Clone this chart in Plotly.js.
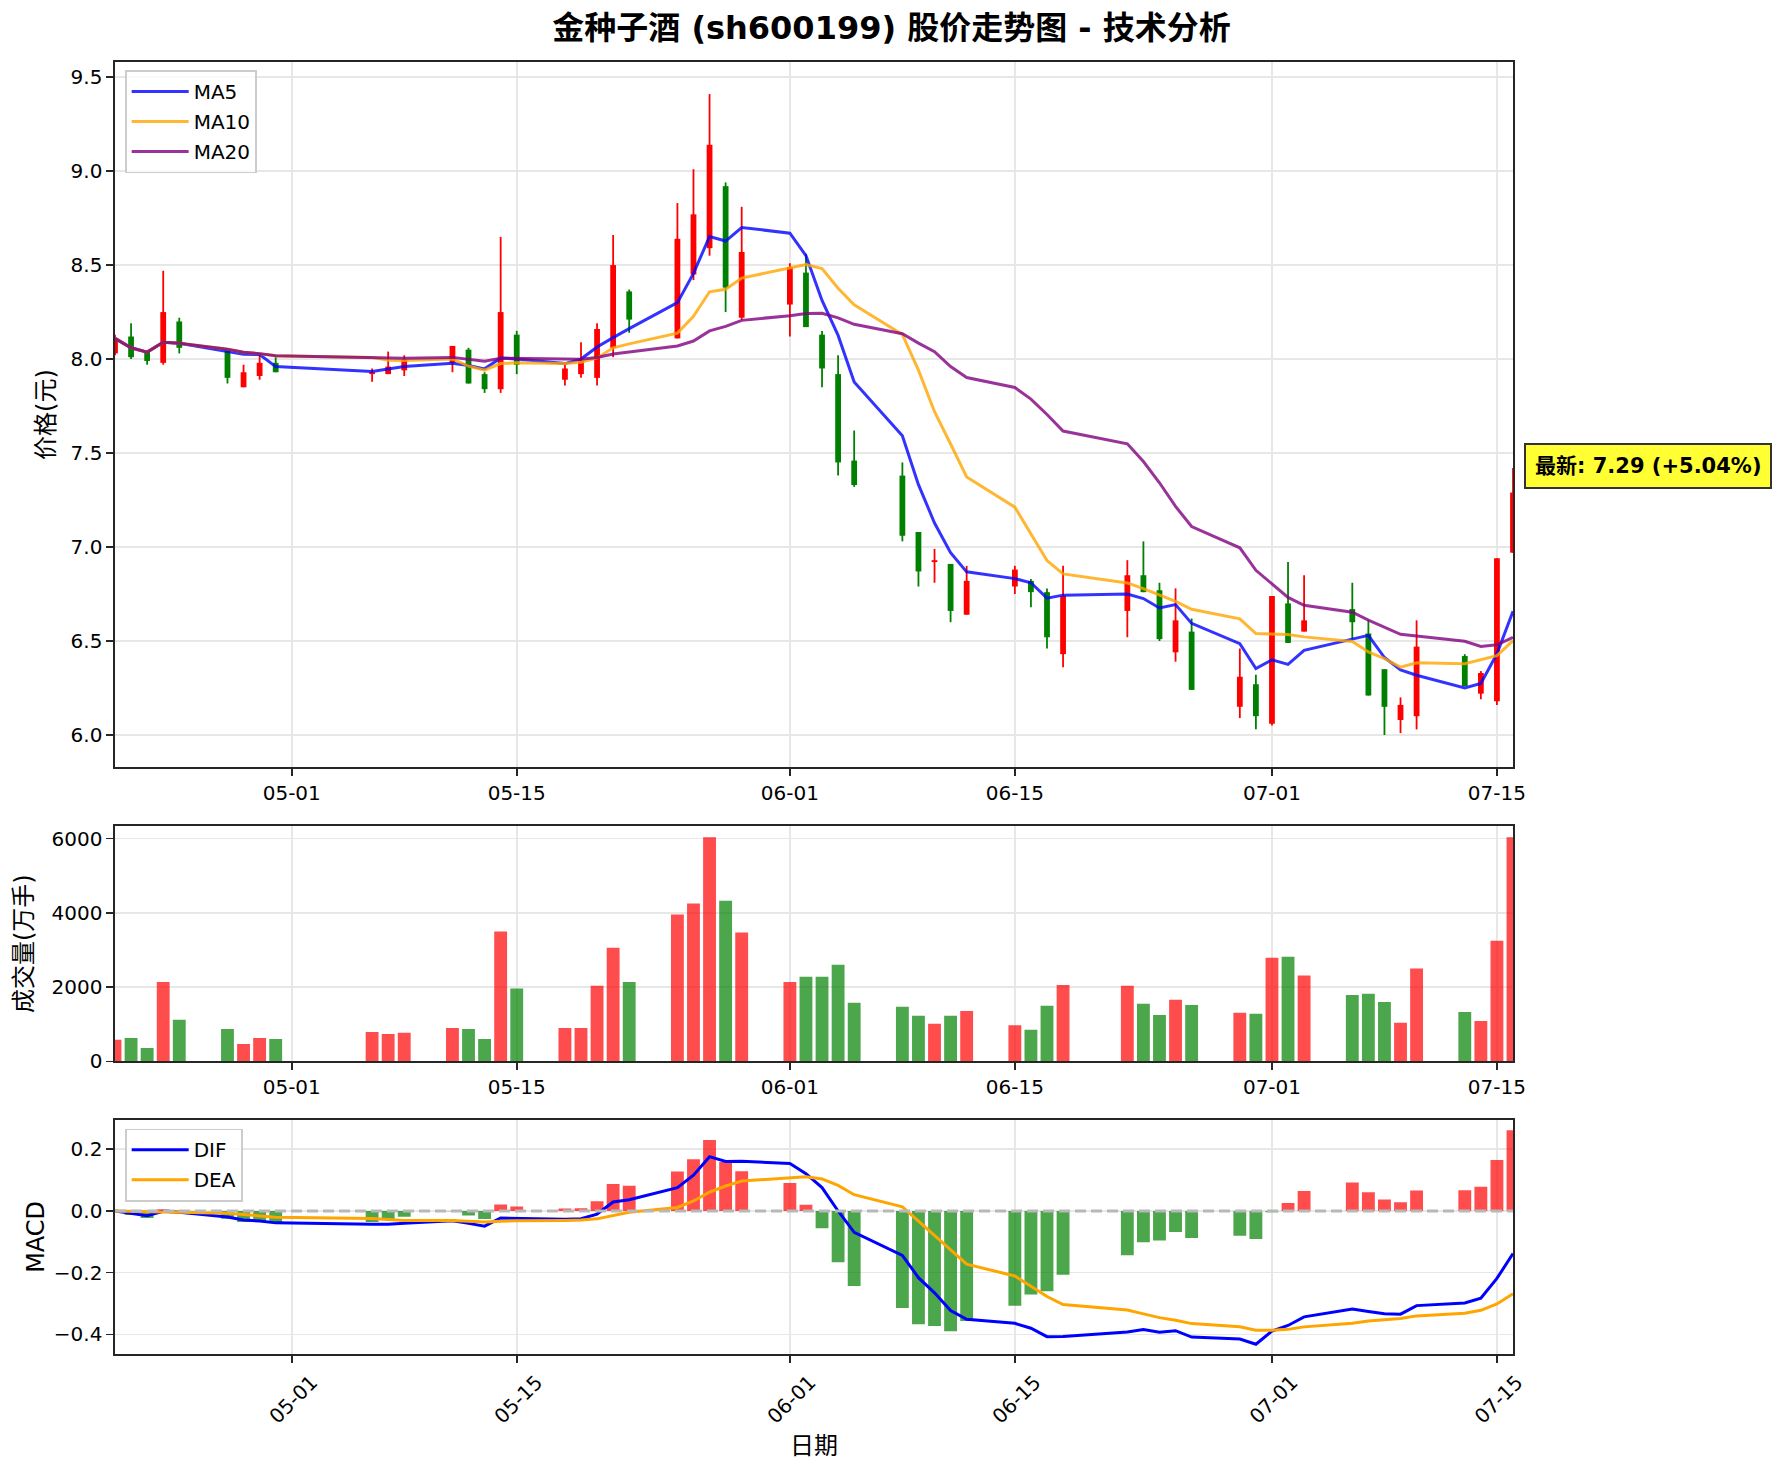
<!DOCTYPE html>
<html>
<head>
<meta charset="utf-8">
<script src="https://cdn.plot.ly/plotly-3.0.1.min.js"></script>
<style>html,body{margin:0;padding:0;background:#fff;}#chart{width:1783px;height:1475px;}</style>
</head>
<body>
<div id="chart"></div>
<script>
const dates = ['2026-04-20','2026-04-21','2026-04-22','2026-04-23','2026-04-24','2026-04-27','2026-04-28','2026-04-29','2026-04-30',
  '2026-05-06','2026-05-07','2026-05-08','2026-05-11','2026-05-12','2026-05-13','2026-05-14','2026-05-15','2026-05-18','2026-05-19',
  '2026-05-20','2026-05-21','2026-05-22','2026-05-25','2026-05-26','2026-05-27','2026-05-28','2026-05-29','2026-06-01','2026-06-02',
  '2026-06-03','2026-06-04','2026-06-05','2026-06-08','2026-06-09','2026-06-10','2026-06-11','2026-06-12','2026-06-15','2026-06-16',
  '2026-06-17','2026-06-18','2026-06-22','2026-06-23','2026-06-24','2026-06-25','2026-06-26','2026-06-29','2026-06-30','2026-07-01',
  '2026-07-02','2026-07-03','2026-07-06','2026-07-07','2026-07-08','2026-07-09','2026-07-10','2026-07-13','2026-07-14','2026-07-15','2026-07-16'];

const opens  = [8.03,8.12,8.04,7.98,8.20,8.05,7.85,7.91,7.98,7.92,7.92,7.94,7.98,8.05,7.92,7.84,8.13,7.89,7.92,7.90,
                8.06,8.36,8.11,8.45,8.59,8.92,8.22,8.29,8.46,8.13,7.92,7.46,7.38,7.08,6.92,6.91,6.64,6.79,6.82,6.76,
                6.43,6.66,6.85,6.77,6.44,6.55,6.15,6.27,6.06,6.70,6.55,6.67,6.54,6.35,6.08,6.10,6.42,6.22,6.18,6.97];
const highs  = [8.13,8.19,8.04,8.47,8.22,8.05,7.97,8.02,8.01,7.95,8.04,8.02,8.07,8.06,7.93,8.65,8.15,7.97,8.09,8.19,
                8.66,8.37,8.83,9.01,9.41,8.94,8.81,8.51,8.56,8.15,8.02,7.62,7.45,7.08,6.99,6.91,6.90,6.90,6.83,6.78,
                6.90,6.93,7.03,6.81,6.78,6.62,6.46,6.32,6.74,6.92,6.85,6.81,6.61,6.35,6.20,6.61,6.43,6.34,6.94,7.42];
const lows   = [8.02,8.00,7.97,7.97,8.03,7.87,7.85,7.89,7.93,7.88,7.92,7.91,7.93,7.87,7.82,7.82,7.92,7.86,7.90,7.86,
                8.01,8.14,8.11,8.42,8.55,8.25,8.21,8.12,8.17,7.85,7.38,7.32,7.03,6.79,6.81,6.60,6.64,6.75,6.68,6.46,
                6.36,6.52,6.76,6.50,6.39,6.24,6.09,6.03,6.05,6.49,6.55,6.51,6.21,6.00,6.01,6.03,6.26,6.19,6.16,6.97];
const closes = [8.11,8.01,7.99,8.25,8.06,7.90,7.93,7.98,7.93,7.93,7.96,8.00,8.07,7.87,7.84,8.25,7.97,7.95,7.99,8.16,
                8.50,8.21,8.64,8.77,9.14,8.38,8.57,8.49,8.17,7.95,7.45,7.33,7.06,6.87,6.93,6.66,6.82,6.88,6.76,6.52,
                6.74,6.85,6.76,6.51,6.61,6.24,6.31,6.10,6.74,6.49,6.61,6.60,6.21,6.15,6.16,6.47,6.26,6.33,6.94,7.29];
const volumes = [580,630,360,2140,1120,870,470,630,600,790,740,770,900,870,600,3500,1960,900,900,2040,
                 3060,2140,3960,4250,6040,4330,3470,2140,2280,2280,2600,1580,1470,1230,1010,1230,1360,970,850,1500,
                 2060,2040,1550,1250,1660,1520,1310,1280,2790,2820,2310,1790,1820,1600,1040,2500,1330,1090,3250,6040];

const ma5  = [8.110,8.060,8.037,8.090,8.084,8.042,8.026,8.024,7.960,7.934,7.946,7.960,7.978,7.966,7.948,8.006,8.000,7.976,8.000,8.064,
              8.114,8.162,8.300,8.456,8.652,8.628,8.700,8.670,8.550,8.312,8.126,7.878,7.592,7.332,7.128,6.970,6.868,6.832,6.810,6.728,
              6.744,6.750,6.726,6.676,6.694,6.594,6.486,6.354,6.400,6.376,6.450,6.508,6.530,6.412,6.346,6.318,6.250,6.274,6.432,6.658];
const ma10 = [8.110,8.060,8.037,8.090,8.084,8.053,8.036,8.029,8.018,8.009,7.994,7.993,8.001,7.963,7.941,7.976,7.980,7.977,7.983,8.006,
              8.060,8.081,8.138,8.228,8.358,8.371,8.431,8.485,8.503,8.482,8.377,8.289,8.131,7.941,7.720,7.548,7.373,7.212,7.071,6.928,
              6.857,6.809,6.779,6.743,6.711,6.669,6.618,6.540,6.538,6.535,6.522,6.497,6.442,6.406,6.361,6.384,6.379,6.402,6.422,6.502];
const ma20 = [8.110,8.060,8.037,8.090,8.084,8.053,8.036,8.029,8.018,8.009,8.005,8.004,8.009,7.999,7.989,8.005,8.003,8.000,7.999,8.008,
              8.027,8.037,8.070,8.096,8.150,8.174,8.206,8.231,8.243,8.244,8.219,8.185,8.135,8.085,8.039,7.960,7.902,7.849,7.787,7.705,
              7.617,7.549,7.455,7.342,7.216,7.109,6.996,6.876,6.805,6.732,6.690,6.653,6.611,6.575,6.536,6.527,6.499,6.471,6.480,6.519];

const dif = [0.0000,-0.0080,-0.0157,-0.0009,-0.0044,-0.0199,-0.0294,-0.0325,-0.0386,-0.0429,-0.0434,-0.0401,-0.0314,-0.0403,-0.0491,-0.0228,-0.0243,-0.0267,-0.0251,-0.0101,
             0.0290,0.0361,0.0756,0.1160,0.1759,0.1602,0.1612,0.1538,0.1207,0.0758,-0.0001,-0.0691,-0.1439,-0.2161,-0.2654,-0.3225,-0.3508,-0.3642,-0.3801,-0.4074,
             -0.4066,-0.3925,-0.3842,-0.3933,-0.3880,-0.4088,-0.4150,-0.4318,-0.3890,-0.3710,-0.3431,-0.3181,-0.3260,-0.3333,-0.3344,-0.3067,-0.2983,-0.2827,-0.2186,-0.1380];
const dea = [0.0000,-0.0016,-0.0044,-0.0037,-0.0039,-0.0071,-0.0115,-0.0157,-0.0203,-0.0248,-0.0285,-0.0308,-0.0309,-0.0328,-0.0361,-0.0334,-0.0316,-0.0306,-0.0295,-0.0256,
             -0.0147,-0.0045,0.0115,0.0324,0.0611,0.0809,0.0970,0.1083,0.1108,0.1038,0.0830,0.0526,0.0133,-0.0326,-0.0791,-0.1278,-0.1724,-0.2108,-0.2446,-0.2772,
             -0.3031,-0.3210,-0.3336,-0.3456,-0.3540,-0.3650,-0.3750,-0.3864,-0.3869,-0.3837,-0.3756,-0.3641,-0.3565,-0.3518,-0.3483,-0.3400,-0.3317,-0.3219,-0.3012,-0.2686];
const macdHist = [0.0000,-0.0128,-0.0226,0.0057,-0.0011,-0.0256,-0.0357,-0.0336,-0.0365,-0.0361,-0.0297,-0.0185,-0.0010,-0.0149,-0.0261,0.0212,0.0147,0.0078,0.0087,0.0311,
             0.0874,0.0813,0.1282,0.1673,0.2296,0.1585,0.1285,0.0909,0.0198,-0.0560,-0.1662,-0.2434,-0.3145,-0.3670,-0.3725,-0.3894,-0.3568,-0.3069,-0.2710,-0.2604,
             -0.2070,-0.1432,-0.1013,-0.0955,-0.0678,-0.0877,-0.0800,-0.0909,-0.0042,0.0254,0.0650,0.0920,0.0609,0.0371,0.0279,0.0666,0.0668,0.0784,0.1652,0.2612];

const tickDates = ['2026-05-01','2026-05-15','2026-06-01','2026-06-15','2026-07-01','2026-07-15'];

const FONT = 'DejaVu Sans, Noto Sans CJK SC, sans-serif';
const DAY = 86400000;
const UP = '#ff0000', DOWN = '#008000';

// candle geometry built from the OHLC arrays
const isUp = closes.map((c, i) => c >= opens[i]);
const bodyBase = closes.map((c, i) => Math.min(c, opens[i]));
const bodyLen = closes.map((c, i) => Math.abs(c - opens[i]));
function wick(sel) {
  const x = [], y = [];
  dates.forEach((d, i) => { if (isUp[i] === sel) { x.push(d, d, null); y.push(lows[i], highs[i], null); } });
  return {x, y};
}
const wu = wick(true), wd = wick(false);

const traces = [
  {type:'scatter', mode:'lines', x:wu.x, y:wu.y, line:{color:UP, width:1.8}, xaxis:'x', yaxis:'y', showlegend:false, hoverinfo:'skip'},
  {type:'scatter', mode:'lines', x:wd.x, y:wd.y, line:{color:DOWN, width:1.8}, xaxis:'x', yaxis:'y', showlegend:false, hoverinfo:'skip'},
  {type:'bar', x:dates, y:bodyLen, base:bodyBase, width:0.36*DAY, marker:{color:isUp.map(u => u ? UP : DOWN), line:{width:0}},
   xaxis:'x', yaxis:'y', showlegend:false},
  {type:'scatter', mode:'lines', name:'MA5', x:dates, y:ma5, line:{color:'rgba(0,0,255,0.8)', width:3}, xaxis:'x', yaxis:'y', legend:'legend', legendgroup:'a'},
  {type:'scatter', mode:'lines', name:'MA10', x:dates, y:ma10, line:{color:'rgba(255,165,0,0.8)', width:3}, xaxis:'x', yaxis:'y', legend:'legend', legendgroup:'b'},
  {type:'scatter', mode:'lines', name:'MA20', x:dates, y:ma20, line:{color:'rgba(128,0,128,0.8)', width:3}, xaxis:'x', yaxis:'y', legend:'legend', legendgroup:'c'},
  {type:'bar', x:dates, y:volumes, width:0.8*DAY, marker:{color:isUp.map(u => u ? 'rgba(255,0,0,0.7)' : 'rgba(0,128,0,0.7)'), line:{width:0}},
   xaxis:'x2', yaxis:'y2', showlegend:false},
  {type:'bar', x:dates, y:macdHist, width:0.8*DAY, marker:{color:macdHist.map(v => v >= 0 ? 'rgba(255,0,0,0.7)' : 'rgba(0,128,0,0.7)'), line:{width:0}},
   xaxis:'x3', yaxis:'y3', showlegend:false},
  {type:'scatter', mode:'lines', name:'DIF', x:dates, y:dif, line:{color:'#0000ff', width:3}, xaxis:'x3', yaxis:'y3', legend:'legend2', legendgroup:'d'},
  {type:'scatter', mode:'lines', name:'DEA', x:dates, y:dea, line:{color:'#ffa500', width:3}, xaxis:'x3', yaxis:'y3', legend:'legend2', legendgroup:'e'}
];

const axBase = {showline:true, mirror:true, linecolor:'#262626', linewidth:1.6, ticks:'outside', ticklen:7, tickwidth:1.6,
  tickcolor:'#262626', showgrid:true, gridcolor:'#e7e7e7', gridwidth:1.6, zeroline:false, tickfont:{size:20, color:'#000'}};
const xBase = Object.assign({}, axBase, {type:'date', range:[dates[0], dates[dates.length-1]], tickmode:'array',
  tickvals:tickDates, tickformat:'%m-%d', domain:[0,1]});

const last = closes.length - 1;
const pct = (closes[last] - closes[last-1]) / closes[last-1] * 100;

const legendBase = {x:0.0072, xref:'paper', yref:'paper', xanchor:'left', yanchor:'top', bgcolor:'rgba(255,255,255,0.8)',
  bordercolor:'#cccccc', borderwidth:1.6, font:{size:20}, traceorder:'grouped', tracegroupgap:1, itemwidth:57};

const layout = {
  width:1783, height:1475,
  margin:{l:115, r:270, t:62, b:121},
  paper_bgcolor:'#fff', plot_bgcolor:'#fff',
  font:{family:FONT, color:'#000'},
  barmode:'overlay',
  title:{text:'<b>金种子酒 (sh600199) 股价走势图 - 技术分析</b>', font:{size:32, family:FONT, color:'#000'},
    x:0.5, xref:'container', xanchor:'center', y:1-28/1475, yref:'container', yanchor:'middle'},
  xaxis: Object.assign({}, xBase, {anchor:'y'}),
  xaxis2: Object.assign({}, xBase, {anchor:'y2', matches:'x'}),
  xaxis3: Object.assign({}, xBase, {anchor:'y3', matches:'x', tickangle:-45, ticklabelshift:20,
    title:{text:'日期', font:{size:24}, standoff:10}}),
  yaxis: Object.assign({}, axBase, {domain:[0.4543,1], anchor:'x', range:[5.8295,9.5805], dtick:0.5, tick0:6, tickformat:'.1f',
    title:{text:'价格(元)', font:{size:24}, standoff:9}}),
  yaxis2: Object.assign({}, axBase, {domain:[0.2265,0.4087], anchor:'x2', range:[0,6342], tickmode:'array', tickvals:[0,2000,4000,6000],
    tickformat:'d', title:{text:'成交量(万手)', font:{size:24}, standoff:12}}),
  yaxis3: Object.assign({}, axBase, {domain:[0,0.1813], anchor:'x3', range:[-0.4635,0.2955], dtick:0.2, tick0:0, tickformat:'.1f',
    title:{text:'MACD', font:{size:24}, standoff:2}}),
  showlegend:true,
  legend: Object.assign({}, legendBase, {y:0.9935}),
  legend2: Object.assign({}, legendBase, {y:0.1745}),
  shapes:[{type:'line', xref:'x3 domain', x0:0, x1:1, yref:'y3', y0:0, y1:0, line:{color:'#b8b8b8', width:3, dash:'11px,5px'}}],
  annotations:[{xref:'x', yref:'y', x:dates[last], y:closes[last], xanchor:'left', yanchor:'middle', xshift:11, yshift:27,
    showarrow:false, text:'<b>最新: ' + closes[last].toFixed(2) + ' (+' + pct.toFixed(2) + '%)</b>',
    font:{size:21, color:'#000'}, bgcolor:'rgba(255,255,0,0.8)', bordercolor:'#333333', borderwidth:2, borderpad:9}]
};

Plotly.newPlot('chart', traces, layout, {displayModeBar:false, staticPlot:true});
</script>
</body>
</html>
